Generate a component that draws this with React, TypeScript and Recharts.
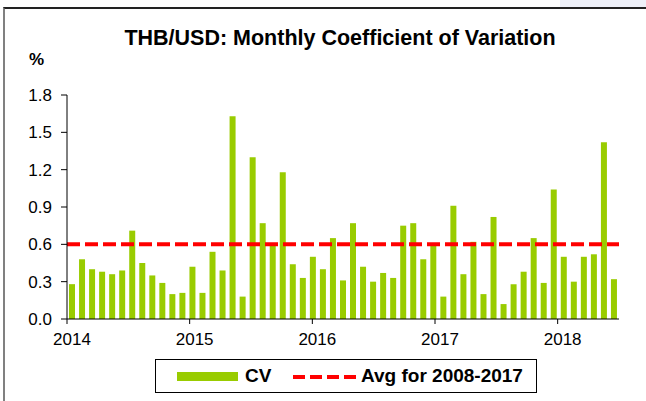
import { BarChart, Bar, XAxis, YAxis, ReferenceLine } from 'recharts'

// monthly CV, Jan 2014 .. Jul 2018
const cv = [
  0.28, 0.48, 0.40, 0.38, 0.36, 0.39, 0.71, 0.45, 0.35, 0.29, 0.20, 0.21,
  0.42, 0.21, 0.54, 0.39, 1.63, 0.18, 1.30, 0.77, 0.60, 1.18, 0.44, 0.33,
  0.50, 0.40, 0.65, 0.31, 0.77, 0.42, 0.30, 0.37, 0.33, 0.75, 0.77, 0.48,
  0.60, 0.18, 0.91, 0.36, 0.62, 0.20, 0.82, 0.12, 0.28, 0.38, 0.65, 0.29,
  1.04, 0.50, 0.30, 0.50, 0.52, 1.42, 0.32,
]
const firstYear = 2014
const yearTicks = [0, 12, 24, 36, 48]
const yTicks = [0, 0.3, 0.6, 0.9, 1.2, 1.5, 1.8]
const avg = 0.6

const data = cv.map((v, i) => ({
  month: `${firstYear + Math.floor(i / 12)}-${(i % 12) + 1}`,
  cv: v,
}))

const font = 'Arial, "Liberation Sans", sans-serif'
const green = '#99cc00'
const red = '#ff0000'

export default function App() {
  return (
    <div style={{ position: 'absolute', left: 0, top: 0, width: 646, height: 401, background: '#fff', overflow: 'hidden', fontFamily: font }}>
      <div style={{ position: 'absolute', left: 560, top: 0, width: 86, height: 7, background: '#eef0f8' }} />
      <div style={{ position: 'absolute', left: 3, top: 7, width: 700, height: 500, borderLeft: '2px solid #808080', borderTop: '2px solid #222' }} />
      <div style={{ position: 'absolute', left: 0, width: 680, top: 26, textAlign: 'center', fontWeight: 'bold', fontSize: 21.5, color: '#000' }}>
        THB/USD: Monthly Coefficient of Variation
      </div>
      <div style={{ position: 'absolute', left: 29, top: 50, fontWeight: 'bold', fontSize: 17, color: '#000' }}>%</div>

      <div style={{ position: 'absolute', left: 0, top: 0 }}>
        <BarChart width={646} height={401} data={data} margin={{ top: 95, right: 27, bottom: 52, left: 0 }}>
          <XAxis xAxisId="cat" dataKey="month" hide height={0} />
          <XAxis
            xAxisId="yr"
            type="number"
            domain={[0, cv.length]}
            ticks={yearTicks}
            tickFormatter={v => String(firstYear + v / 12)}
            height={30}
            axisLine={{ stroke: '#000' }}
            tickLine={{ stroke: '#000' }}
            tickSize={5}
            tickMargin={9}
            tick={{ fill: '#000', fontSize: 17, fontFamily: font, dx: 5 }}
            allowDataOverflow
          />
          <YAxis
            domain={[0, 1.8]}
            ticks={yTicks}
            tickFormatter={v => v.toFixed(1)}
            width={67}
            axisLine={{ stroke: '#000' }}
            tickLine={{ stroke: '#000' }}
            tickSize={6}
            tickMargin={9}
            tick={{ fill: '#000', fontSize: 17, fontFamily: font }}
            interval={0}
          />
          <Bar xAxisId="cat" dataKey="cv" fill={green} barSize={6} isAnimationActive={false} />
          <ReferenceLine xAxisId="cat" y={avg} stroke={red} strokeWidth={4} strokeDasharray="13 5" />
        </BarChart>
      </div>

      <div style={{ position: 'absolute', left: 155, top: 359, width: 380, height: 32, border: '1px solid #000', boxSizing: 'content-box' }}>
        <div style={{ position: 'absolute', left: 21, top: 12, width: 61, height: 9, background: green }} />
        <div style={{ position: 'absolute', left: 89, top: 5, fontWeight: 'bold', fontSize: 19, color: '#000' }}>CV</div>
        <svg style={{ position: 'absolute', left: 136, top: 13 }} width={66} height={8}>
          <line x1={1} y1={4} x2={64} y2={4} stroke={red} strokeWidth={4} strokeDasharray="12 5" />
        </svg>
        <div style={{ position: 'absolute', left: 205, top: 5, fontWeight: 'bold', fontSize: 19, color: '#000' }}>Avg for 2008-2017</div>
      </div>
    </div>
  )
}
